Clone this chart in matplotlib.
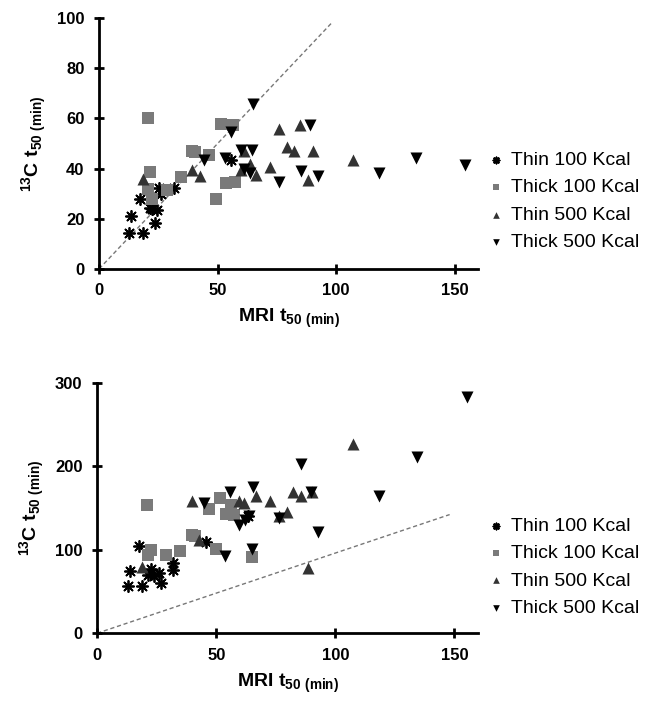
import matplotlib
matplotlib.use('Agg')
import matplotlib.pyplot as plt

plt.rcParams['font.family'] = ['Liberation Sans', 'DejaVu Sans']
plt.rcParams['mathtext.fontset'] = 'custom'
plt.rcParams['mathtext.rm'] = 'Liberation Sans:bold'
plt.rcParams['mathtext.bf'] = 'Liberation Sans:bold'

labels = ['Thin 100 Kcal', 'Thick 100 Kcal', 'Thin 500 Kcal', 'Thick 500 Kcal']

# top panel
top_thin100_x = [12.7, 18.3, 13.4, 23.5, 17.3, 21.5, 22.5, 24.6, 25.4, 26.1, 31.7, 55.6]
top_thin100_y = [14.4, 14.4, 21.1, 18.4, 27.7, 24.4, 24.0, 23.3, 32.4, 30.0, 32.4, 43.3]
top_thick100_x = [20.6, 21.5, 20.8, 22.5, 28.6, 34.5, 39.4, 40.6, 46.5, 49.3, 51.4, 56.3, 53.5, 57.5]
top_thick100_y = [60.0, 38.5, 32.0, 28.0, 31.6, 36.7, 46.9, 46.7, 45.3, 28.0, 58.0, 57.3, 34.3, 34.7]
top_thin500_x = [18.6, 39.4, 42.5, 59.9, 61.3, 63.7, 66.2, 72.1, 76.1, 79.2, 82.1, 84.9, 88.0, 90.1, 107.0]
top_thin500_y = [35.7, 39.6, 37.1, 39.6, 47.1, 42.0, 37.3, 40.7, 56.0, 48.7, 46.9, 57.3, 35.3, 46.9, 43.3]
top_thick500_x = [65.1, 55.6, 44.4, 53.2, 59.9, 64.4, 61.3, 63.8, 76.1, 85.2, 89.0, 92.3, 118.0, 133.8, 154.6]
top_thick500_y = [65.6, 54.7, 43.3, 44.3, 47.3, 47.3, 39.7, 38.4, 34.7, 38.9, 57.3, 36.9, 38.3, 44.3, 41.3]
top_line_x = [0, 98]
top_line_y = [0, 98]

# bottom panel
bot_thin100_x = [13.1, 18.7, 13.8, 17.7, 22.7, 21.5, 23.7, 25.8, 26.8, 31.8, 31.8, 45.5, 63.2]
bot_thin100_y = [56, 56, 74, 104, 77, 70, 68, 72, 60, 84, 76, 109, 140]
bot_thick100_x = [20.8, 22.7, 21.5, 29.0, 34.9, 39.9, 41.2, 46.9, 49.7, 51.5, 56.1, 54.0, 57.5, 64.8]
bot_thick100_y = [154, 100, 94, 94, 99, 118, 116, 149, 101, 162, 154, 143, 141, 91]
bot_thin500_x = [18.7, 39.9, 42.7, 59.6, 61.7, 66.6, 72.7, 76.5, 79.7, 82.4, 85.4, 88.7, 90.3, 107.5]
bot_thin500_y = [79, 158, 112, 158, 156, 164, 158, 140, 145, 169, 164, 78, 169, 227]
bot_thick500_x = [155.4, 134.2, 118.3, 85.4, 89.6, 92.7, 65.6, 55.8, 44.8, 53.7, 64.8, 59.6, 62.0, 76.5, 63.8]
bot_thick500_y = [283, 211, 164, 203, 169, 121, 175, 169, 156, 92, 101, 130, 136, 138, 140]
bot_line_x = [0, 148]
bot_line_y = [0, 142]

fig = plt.figure(figsize=(6.48, 7.02), dpi=100)
ax1 = fig.add_axes([0.153, 0.617, 0.585, 0.357])
ax2 = fig.add_axes([0.150, 0.098, 0.588, 0.357])


def draw(ax, data, line_x, line_y, ylim, yticks, leg_y):
    ax.plot(line_x, line_y, ls='--', color='#777777', lw=1.0, dashes=(3, 2), zorder=1)
    styles = [
        dict(marker=(8, 2, 0), s=65, color='black', linewidths=1.3),
        dict(marker='s', s=75, color='#7a7a7a', linewidths=0),
        dict(marker='^', s=75, color='#333333', linewidths=0),
        dict(marker='v', s=75, color='black', linewidths=0),
    ]
    for (x, y), st, lab in zip(data, styles, labels):
        ax.scatter(x, y, label=lab, zorder=3, **st)
    ax.set_xlim(0, 160)
    ax.set_ylim(*ylim)
    ax.set_xticks([0, 50, 100, 150])
    ax.set_yticks(yticks)
    for s in ['top', 'right']:
        ax.spines[s].set_visible(False)
    for s in ['left', 'bottom']:
        ax.spines[s].set_linewidth(2)
    ax.tick_params(width=2, length=7, direction='inout', pad=7, labelsize=12)
    for t in ax.get_xticklabels() + ax.get_yticklabels():
        t.set_fontweight('bold')
    ax.set_xlabel(r'MRI t$_{50\ \mathrm{(min)}}$', fontsize=14, fontweight='bold', labelpad=6)
    ax.set_ylabel(r'$^{13}$C t$_{50\ \mathrm{(min)}}$', fontsize=14, fontweight='bold', labelpad=6)
    ax.legend(loc='center left', bbox_to_anchor=(1.015, leg_y), frameon=False,
              fontsize=14, markerscale=0.55, handlelength=1.2, handletextpad=0.2,
              labelspacing=0.5, borderpad=0, borderaxespad=0)


draw(ax1, [(top_thin100_x, top_thin100_y), (top_thick100_x, top_thick100_y),
           (top_thin500_x, top_thin500_y), (top_thick500_x, top_thick500_y)],
     top_line_x, top_line_y, (0, 100), [0, 20, 40, 60, 80, 100], 0.27)
draw(ax2, [(bot_thin100_x, bot_thin100_y), (bot_thick100_x, bot_thick100_y),
           (bot_thin500_x, bot_thin500_y), (bot_thick500_x, bot_thick500_y)],
     bot_line_x, bot_line_y, (0, 300), [0, 100, 200, 300], 0.264)

plt.savefig('out.png', dpi=100)
